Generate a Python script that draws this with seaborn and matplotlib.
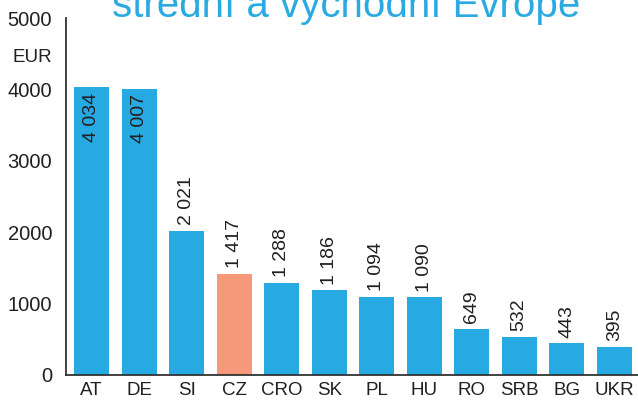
import matplotlib
matplotlib.use("Agg")
import matplotlib.pyplot as plt
import seaborn as sns
import pandas as pd

countries = ["AT", "DE", "SI", "CZ", "CRO", "SK", "PL", "HU", "RO", "SRB", "BG", "UKR"]
values = [4034, 4007, 2021, 1417, 1288, 1186, 1094, 1090, 649, 532, 443, 395]
labels = ["4 034", "4 007", "2 021", "1 417", "1 288", "1 186", "1 094", "1 090", "649", "532", "443", "395"]
yticks = [0, 1000, 2000, 3000, 4000, 5000]
title = "střední a východní Evropě"
unit = "EUR"

blue = "#27A9E1"
salmon = "#F5997A"
colors = [salmon if c == "CZ" else blue for c in countries]

sns.set_theme(style="white")
plt.rcParams["font.family"] = ["Liberation Sans", "DejaVu Sans"]

df = pd.DataFrame({"country": countries, "value": values})

fig = plt.figure(figsize=(6.38, 4.0), dpi=100)
ax = fig.add_axes([66 / 638, 25 / 400, 572 / 638, 357 / 400])

sns.barplot(data=df, x="country", y="value", hue="country", palette=colors,
            legend=False, width=0.74, ax=ax, saturation=1, linewidth=0)

ax.set_ylim(0, 5000)
ax.set_xlim(-0.54, len(countries) - 0.5)
ax.set_yticks(yticks)
ax.set_yticklabels([str(t) for t in yticks])
ax.set_xlabel("")
ax.set_ylabel("")

for s in ["top", "right"]:
    ax.spines[s].set_visible(False)
for s in ["left", "bottom"]:
    ax.spines[s].set_color("#333333")
    ax.spines[s].set_linewidth(1.3)

ax.tick_params(axis="y", direction="in", length=8, width=1.3, color="#333333",
               labelsize=14.5, labelcolor="#231F20", pad=10)
ax.tick_params(axis="x", length=0, labelsize=13.5, labelcolor="#231F20", pad=5)

for i, (v, lab) in enumerate(zip(values, labels)):
    if v > 3500:
        ax.annotate(lab, xy=(i, v), xytext=(0, -4), textcoords="offset points",
                    rotation=90, ha="center", va="top", fontsize=14, color="#231F20")
    else:
        ax.annotate(lab, xy=(i, v), xytext=(0, 4), textcoords="offset points",
                    rotation=90, ha="center", va="bottom", fontsize=14, color="#231F20")

fig.text(32 / 638, 1 - 57 / 400, unit, ha="center", va="center", fontsize=13.5, color="#231F20")
fig.text(346 / 638, 1 - 17 / 400, title, ha="center", va="baseline", fontsize=29, color="#29ABE2")

fig.savefig("out.png", dpi=100)
